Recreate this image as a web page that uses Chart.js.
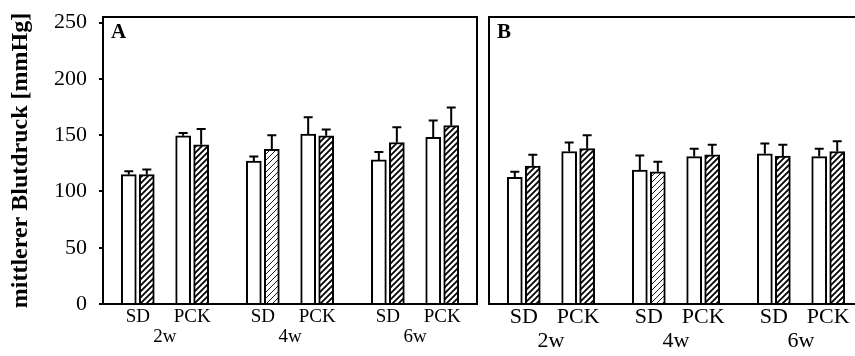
<!DOCTYPE html>
<html>
<head>
<meta charset="utf-8">
<script src="https://cdn.jsdelivr.net/npm/chart.js@4.4.1/dist/chart.umd.min.js"></script>
<style>
  html, body { margin: 0; padding: 0; background: #fff; overflow: hidden; }
  #wrap { position: relative; width: 855px; height: 356px; overflow: hidden; }
  #chartA { position: absolute; left: 0; top: 0; width: 480px; height: 356px; }
  #chartB { position: absolute; left: 480px; top: 0; width: 384px; height: 356px; }
</style>
</head>
<body>
<div id="wrap">
  <canvas id="chartA" width="480" height="356"></canvas>
  <canvas id="chartB" width="384" height="356"></canvas>
</div>
<script>
document.addEventListener("DOMContentLoaded", function () {
    const strains = ["SD", "PCK", "SD", "PCK", "SD", "PCK"];
    const weeks = ["2w", "4w", "6w"];
    const yTicks = [0, 50, 100, 150, 200, 250];
    const yMax = 255; // the frame reaches a little above the 250 tick

    // panel A: open bars and hatched bars (mean, upper error)
    const openMeanA = [115, 149.5, 127, 151, 128, 148];
    const openSdA = [3, 2.5, 4, 15, 7, 15];
    const hatchMeanA = [115, 141.5, 137.5, 149.5, 143.5, 158.5];
    const hatchSdA = [4.5, 14, 12.5, 5.5, 13.5, 16];

    // panel B
    const openMeanB = [112.5, 135.5, 119, 131, 133.5, 131];
    const openSdB = [5, 8, 13, 7, 9, 7];
    const hatchMeanB = [122.5, 138, 117.5, 132.5, 131.5, 135.5];
    const hatchSdB = [10, 12, 9, 9, 10, 9];

    // group layout: SD/PCK one unit apart, weeks a bit further apart
    const weekGap = 2.3;
    const barPos = strains.map((s, i) => Math.floor(i / 2) * weekGap + (i % 2));
    const weekPos = weeks.map((w, i) => i * weekGap + 0.5);
    const xMin = -0.64;
    const xMax = 2 * weekGap + 1 + 0.64;

    const serif = "'Liberation Serif', 'Times New Roman', serif";

    function makeHatch(lw) {
        const c = document.createElement("canvas");
        c.width = 6;
        c.height = 6;
        const g = c.getContext("2d");
        g.fillStyle = "#fff";
        g.fillRect(0, 0, 6, 6);
        g.strokeStyle = "#000";
        g.lineWidth = lw;
        g.beginPath();
        g.moveTo(-1, 7); g.lineTo(7, -1);
        g.moveTo(-1, 1); g.lineTo(1, -1);
        g.moveTo(5, 7); g.lineTo(7, 5);
        g.stroke();
        return g.createPattern(c, "repeat");
    }
    const hatchDark = makeHatch(1.8);
    const hatchLight = makeHatch(0.9);
    // SD 4w hatched bar is drawn with a finer hatch in both panels
    const hatchFill = strains.map((s, i) => i === 2 ? hatchLight : hatchDark);

    const errorBars = {
        id: "errorBars",
        afterDatasetsDraw(chart) {
            const ctx = chart.ctx;
            const y = chart.scales.y;
            ctx.save();
            ctx.strokeStyle = "#000";
            ctx.lineWidth = 2;
            chart.data.datasets.forEach((ds, i) => {
                chart.getDatasetMeta(i).data.forEach((bar, j) => {
                    const top = y.getPixelForValue(ds.data[j].y + ds.errors[j]);
                    ctx.beginPath();
                    ctx.moveTo(bar.x, bar.y);
                    ctx.lineTo(bar.x, top);
                    ctx.moveTo(bar.x - 4.5, top);
                    ctx.lineTo(bar.x + 4.5, top);
                    ctx.stroke();
                });
            });
            ctx.restore();
        }
    };

    const frame = {
        id: "frame",
        afterDraw(chart, args, opts) {
            const a = chart.chartArea;
            const ctx = chart.ctx;
            ctx.save();
            ctx.strokeStyle = "#000";
            ctx.lineWidth = 2;
            ctx.strokeRect(a.left, a.top, a.right - a.left, a.bottom - a.top);
            ctx.font = "bold 21px " + serif;
            ctx.fillStyle = "#000";
            ctx.textBaseline = "alphabetic";
            ctx.fillText(opts.letter, a.left + 8, a.top + 21);
            ctx.restore();
        }
    };

    function buildChart(id, openMean, openSd, hatchMean, hatchSd, letter, showY, labelSize, pad, labelPad) {
        const ctx = document.getElementById(id).getContext("2d");
        return new Chart(ctx, {
            type: "bar",
            data: {
                datasets: [{
                    label: "open",
                    data: barPos.map((x, i) => ({ x: x, y: openMean[i] })),
                    errors: openSd,
                    backgroundColor: "#fff",
                    borderColor: "#000",
                    borderWidth: 2,
                    barThickness: 18,
                    maxBarThickness: 15
                }, {
                    label: "hatched",
                    data: barPos.map((x, i) => ({ x: x, y: hatchMean[i] })),
                    errors: hatchSd,
                    backgroundColor: hatchFill,
                    borderColor: "#000",
                    borderWidth: 2,
                    barThickness: 18,
                    maxBarThickness: 15
                }]
            },
            options: {
                responsive: false,
                animation: false,
                events: [],
                layout: { padding: pad },
                plugins: {
                    legend: { display: false },
                    tooltip: { enabled: false },
                    frame: { letter: letter }
                },
                scales: {
                    x: {
                        type: "linear",
                        min: xMin,
                        max: xMax,
                        bounds: "data",
                        offset: false,
                        grid: { display: false },
                        border: { display: true, color: "#000", width: 2 },
                        afterBuildTicks: s => { s.ticks = barPos.map(v => ({ value: v })); },
                        afterFit: s => { s.height = 24; },
                        ticks: {
                            autoSkip: false,
                            maxRotation: 0,
                            padding: labelPad[0],
                            color: "#000",
                            font: { family: serif, size: labelSize },
                            callback: (v, i) => strains[i]
                        }
                    },
                    x2: {
                        type: "linear",
                        position: "bottom",
                        min: xMin,
                        max: xMax,
                        bounds: "data",
                        offset: false,
                        grid: { display: false },
                        border: { display: false },
                        afterBuildTicks: s => { s.ticks = weekPos.map(v => ({ value: v })); },
                        afterFit: s => { s.height = 28; },
                        ticks: {
                            autoSkip: false,
                            maxRotation: 0,
                            padding: labelPad[1],
                            color: "#000",
                            font: { family: serif, size: labelSize },
                            callback: (v, i) => weeks[i]
                        }
                    },
                    y: {
                        min: 0,
                        max: yMax,
                        display: showY,
                        afterBuildTicks: s => { s.ticks = yTicks.map(v => ({ value: v })); },
                        afterFit: s => {
                            s.width = showY ? 103 : 0;
                            s.paddingTop = 0;
                            s.paddingBottom = 0;
                        },
                        grid: { drawOnChartArea: false, color: "#000", lineWidth: 2, tickLength: 4 },
                        border: { color: "#000", width: 2 },
                        ticks: {
                            padding: 12,
                            color: "#000",
                            font: { family: serif, size: 22 }
                        },
                        title: {
                            display: true,
                            text: "mittlerer Blutdruck [mmHg]",
                            color: "#000",
                            font: { family: serif, size: 24, weight: "bold" },
                            padding: { top: 6, bottom: 0 }
                        }
                    }
                }
            },
            plugins: [errorBars, frame]
        });
    }

    buildChart("chartA", openMeanA, openSdA, hatchMeanA, hatchSdA, "A", true, 19,
        { top: 17, right: 3, left: 0, bottom: 0 }, [-6, -10]);
    buildChart("chartB", openMeanB, openSdB, hatchMeanB, hatchSdB, "B", false, 22,
        { top: 17, right: 1, left: 9, bottom: 0 }, [-8, -8]);
});
</script>
</body>
</html>
